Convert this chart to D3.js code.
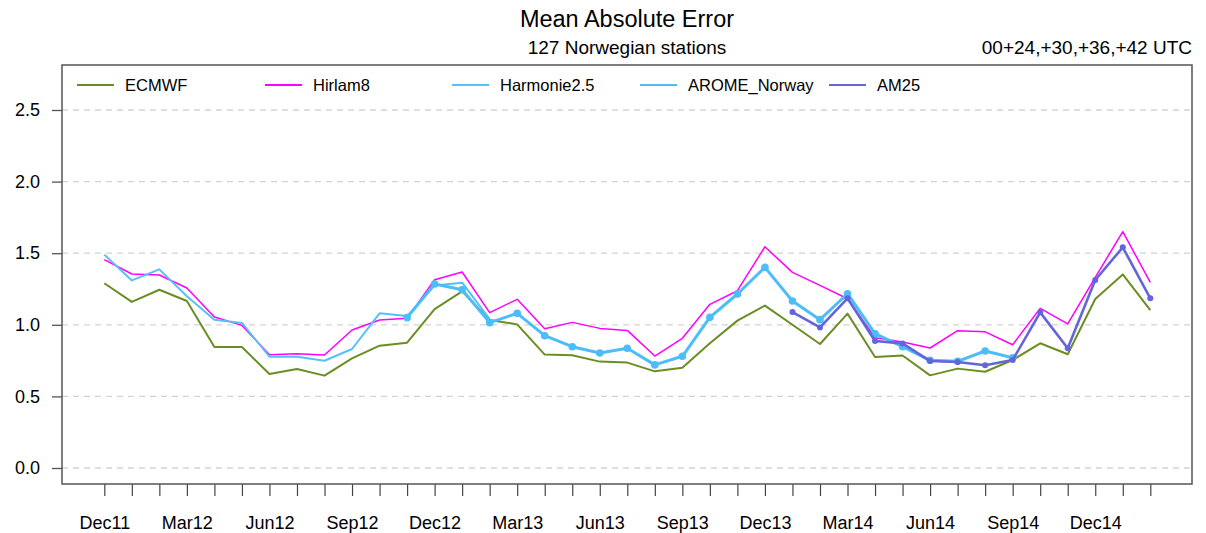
<!DOCTYPE html>
<html><head><meta charset="utf-8">
<script src="https://cdn.jsdelivr.net/npm/d3@7"></script>
<style>body{margin:0;background:#fff}svg{display:block;font-family:"Liberation Sans",Arial,Helvetica,sans-serif}</style>
</head><body><svg id="c" width="1206" height="533"></svg>
<script>
const months = ["Dec11","Jan12","Feb12","Mar12","Apr12","May12","Jun12","Jul12","Aug12","Sep12","Oct12","Nov12",
"Dec12","Jan13","Feb13","Mar13","Apr13","May13","Jun13","Jul13","Aug13","Sep13","Oct13","Nov13",
"Dec13","Jan14","Feb14","Mar14","Apr14","May14","Jun14","Jul14","Aug14","Sep14","Oct14","Nov14",
"Dec14","Jan15","Feb15"];
const yTicks = [0.0, 0.5, 1.0, 1.5, 2.0, 2.5];
const ecmwf = [1.29,1.16,1.245,1.166,0.845,0.845,0.656,0.691,0.645,0.766,0.854,0.875,
1.11,1.234,1.034,1.003,0.792,0.787,0.743,0.736,0.675,0.70,0.871,1.029,
1.134,1.0,0.866,1.078,0.775,0.786,0.647,0.694,0.672,0.754,0.871,0.794,
1.18,1.352,1.103];
const hirlam8 = [1.455,1.355,1.348,1.257,1.055,0.996,0.791,0.798,0.789,0.964,1.034,1.045,
1.315,1.369,1.085,1.178,0.972,1.017,0.975,0.961,0.782,0.906,1.143,1.238,
1.545,1.366,1.275,1.182,0.91,0.88,0.838,0.959,0.951,0.861,1.115,1.006,
1.331,1.65,1.297];
const harmonie25 = [1.49,1.31,1.387,1.2,1.036,1.013,0.777,0.777,0.749,0.831,1.08,1.061,
1.275,1.294,1.04,null,null,null,null,null,null,null,null,null,
null,null,null,null,null,null,null,null,null,null,null,null,null,null,null];
const aromeNorway = [null,null,null,null,null,null,null,null,null,null,null,1.05,
1.285,1.245,1.015,1.08,0.924,0.847,0.803,0.836,0.72,0.78,1.052,1.215,
1.401,1.166,1.036,1.217,0.938,0.847,0.752,0.745,0.817,0.77,null,null,null,null,null];
const am25 = [null,null,null,null,null,null,null,null,null,null,null,null,
null,null,null,null,null,null,null,null,null,null,null,null,
null,1.089,0.982,1.185,0.887,0.87,0.747,0.74,0.717,0.754,1.087,0.836,
1.313,1.541,1.185];
const seriesNames = ["ECMWF","Hirlam8","Harmonie2.5","AROME_Norway","AM25"];
const seriesColors = ["#6B8E23","#FF00FF","#55C1F5","#4CBDF8","#6464DC"];

const svg = d3.select("#c");
const L=62,R=1192,T=65,B=484;
const x = d3.scalePoint().domain(months).range([104.3,1150.3]);
const y = d3.scaleLinear().domain([0,2.5]).range([468,110]);

// grid
svg.append("g").selectAll("line").data(yTicks).join("line")
 .attr("x1",L).attr("x2",R).attr("y1",d=>y(d)).attr("y2",d=>y(d))
 .attr("stroke","#d3d3d3").attr("stroke-width",1.3).attr("stroke-dasharray","6,5");

// y axis
const ya = svg.append("g").attr("transform",`translate(${L},0)`)
 .call(d3.axisLeft(y).tickValues(yTicks).tickFormat(d3.format(".1f")).tickSize(10).tickPadding(12));
ya.select(".domain").remove();
ya.selectAll("line").attr("stroke","#555").attr("stroke-width",1.3);
ya.selectAll("text").attr("font-size",18).attr("fill","#000").attr("font-family","Liberation Sans, Arial, sans-serif");

// x axis
const xa = svg.append("g").attr("transform",`translate(0,${B})`)
 .call(d3.axisBottom(x).tickSize(12).tickPadding(20).tickFormat((d,i)=> i%3===0 ? d : ""));
xa.select(".domain").remove();
xa.selectAll("line").attr("stroke","#444").attr("stroke-width",1.2);
xa.selectAll("text").attr("font-size",18).attr("fill","#000").attr("font-family","Liberation Sans, Arial, sans-serif");

// frame
svg.append("rect").attr("x",L).attr("y",T).attr("width",R-L).attr("height",B-T)
 .attr("fill","none").attr("stroke","#555").attr("stroke-width",1.5);

function drawLine(vals,color,w,r){
  const pts = vals.map((v,i)=>({m:months[i],v}));
  const line = d3.line().defined(d=>d.v!=null).x(d=>x(d.m)).y(d=>y(d.v));
  svg.append("path").datum(pts).attr("d",line).attr("fill","none")
    .attr("stroke",color).attr("stroke-width",w).attr("stroke-linejoin","round");
  if(r){
    svg.append("g").selectAll("circle").data(pts.filter(d=>d.v!=null)).join("circle")
     .attr("cx",d=>x(d.m)).attr("cy",d=>y(d.v)).attr("r",r).attr("fill",color);
  }
}
drawLine(ecmwf,seriesColors[0],2,0);
drawLine(hirlam8,seriesColors[1],1.5,0);
drawLine(harmonie25,seriesColors[2],2,0);
drawLine(aromeNorway,seriesColors[3],3,3.8);
drawLine(am25,seriesColors[4],2.6,3);

// legend
const legX=[77,265,452,640,829];
seriesNames.forEach((n,i)=>{
  svg.append("line").attr("x1",legX[i]).attr("x2",legX[i]+37).attr("y1",85).attr("y2",85)
   .attr("stroke",seriesColors[i]).attr("stroke-width",2);
  svg.append("text").attr("x",legX[i]+48).attr("y",91).attr("font-size",16.5).text(n);
});

// titles
svg.append("text").attr("x",627).attr("y",27).attr("text-anchor","middle").attr("font-size",23.5).text("Mean Absolute Error");
svg.append("text").attr("x",627).attr("y",54).attr("text-anchor","middle").attr("font-size",19).text("127 Norwegian stations");
svg.append("text").attr("x",1192).attr("y",54).attr("text-anchor","end").attr("font-size",19).text("00+24,+30,+36,+42 UTC");
</script></body></html>
